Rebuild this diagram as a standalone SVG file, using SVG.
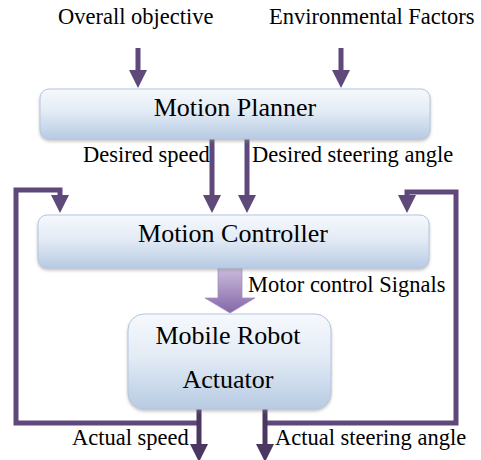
<svg xmlns="http://www.w3.org/2000/svg" width="481" height="460" viewBox="0 0 481 460">
<defs>
<linearGradient id="boxg" x1="0" y1="0" x2="0" y2="1">
<stop offset="0" stop-color="#f6f9fd"/>
<stop offset="0.45" stop-color="#e3ebf5"/>
<stop offset="1" stop-color="#b7cbe3"/>
</linearGradient>
<linearGradient id="bigg" x1="0" y1="0" x2="0" y2="1">
<stop offset="0" stop-color="#cbbcdc"/>
<stop offset="1" stop-color="#8467a8"/>
</linearGradient>
<filter id="sh" x="-10%" y="-20%" width="120%" height="150%">
<feGaussianBlur in="SourceAlpha" stdDeviation="1.5"/>
<feOffset dx="0" dy="2" result="b"/>
<feFlood flood-color="#8a8a8a" flood-opacity="0.5"/>
<feComposite in2="b" operator="in"/>
<feMerge><feMergeNode/><feMergeNode in="SourceGraphic"/></feMerge>
</filter>
</defs>
<style>
.box{fill:url(#boxg);stroke:#b4c6de;stroke-width:1;filter:url(#sh)}
.t{font-family:"Liberation Serif","Times New Roman",serif;fill:#000}
.lbl{font-size:22.5px}
.big{font-size:26px}
.sh{fill:#5f497a}
.fb{fill:none;stroke:#5f497a;stroke-width:5}
.dk{fill:#4a3862}
</style>
<g id="connectors">
<rect class="sh" x="135.5" y="48" width="5" height="24"/>
<path class="sh" d="M129,70 L147,70 L138,88 Z"/>
<rect class="sh" x="338.5" y="48" width="5" height="24"/>
<path class="sh" d="M332,70 L350,70 L341,88 Z"/>
<rect class="sh" x="209.5" y="139" width="5" height="58"/>
<path class="sh" d="M203,195 L221,195 L212,213 Z"/>
<rect class="sh" x="244.5" y="139" width="5" height="58"/>
<path class="sh" d="M238,195 L256,195 L247,213 Z"/>
<path class="fb" d="M199,423 L16,423 L16,190 L60,190 L60,197"/>
<path class="sh" d="M51,195 L69,195 L60,213 Z"/>
<path class="fb" d="M265,423 L456,423 L456,192 L407,192 L407,197"/>
<path class="sh" d="M398,195 L416,195 L407,213 Z"/>
<rect class="dk" x="196.5" y="409" width="5" height="37"/>
<path class="dk" d="M190,444 L208,444 L199,462 Z"/>
<rect class="dk" x="262.5" y="409" width="5" height="37"/>
<path class="dk" d="M256,444 L274,444 L265,462 Z"/>
<path d="M218,268 L242,268 L242,298 L255,298 L230,313 L205,298 L218,298 Z" fill="url(#bigg)" stroke="#a48fc0" stroke-width="0.8"/>
</g>
<g id="planner">
<rect class="box" x="40" y="89" width="390" height="50" rx="9"/>
<text class="t big" x="235" y="116" text-anchor="middle">Motion Planner</text>
</g>
<g id="controller">
<rect class="box" x="38" y="215" width="391" height="53" rx="9"/>
<text class="t big" x="233" y="242" text-anchor="middle">Motion Controller</text>
</g>
<g id="robot">
<rect class="box" x="128" y="314" width="203" height="95" rx="16"/>
<text class="t big" x="228" y="344" text-anchor="middle">Mobile Robot</text>
<text class="t big" x="228" y="388" text-anchor="middle">Actuator</text>
</g>
<g id="labels">
<text class="t lbl" x="58" y="24">Overall objective</text>
<text class="t lbl" x="269" y="24">Environmental Factors</text>
<text class="t lbl" x="83" y="162">Desired speed</text>
<text class="t lbl" x="252" y="162">Desired steering angle</text>
<text class="t lbl" x="248" y="292">Motor control Signals</text>
<text class="t lbl" x="72" y="445">Actual speed</text>
<text class="t lbl" x="275" y="445">Actual steering angle</text>
</g>
</svg>
